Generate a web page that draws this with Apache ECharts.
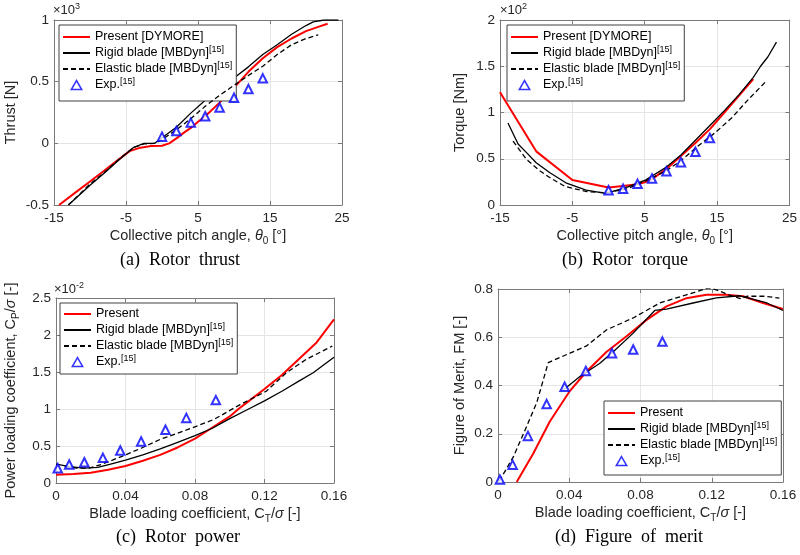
<!DOCTYPE html>
<html><head><meta charset="utf-8">
<script src="https://cdn.jsdelivr.net/npm/echarts@6/dist/echarts.min.js"></script>
<style>html,body{margin:0;padding:0;background:#fff}#c{width:800px;height:555px}</style>
</head><body><div id="c"></div>
<script>
// ---------- DATA ----------
// (a) Rotor thrust [x10^3 N] vs collective pitch angle [deg]
const thrustPresent = [[-14.3,-0.5],[-12,-0.398],[-10,-0.309],[-8,-0.22],[-6,-0.13],[-4.5,-0.063],[-3,-0.035],[-1.5,-0.022],[0,-0.02],[1,0.0],[2,0.04],[3,0.085],[4,0.125],[5,0.175],[6,0.22],[8,0.33],[10,0.45],[12,0.58],[14,0.69],[16,0.78],[18,0.85],[20,0.91],[22,0.95],[23,0.97]];
const thrustRigid = [[-13,-0.5],[-10,-0.34],[-8,-0.24],[-6,-0.135],[-4,-0.035],[-2.5,0.0],[-1,0.0],[0,0.045],[2,0.13],[4,0.245],[6,0.35],[8,0.45],[10,0.53],[12,0.62],[14,0.72],[16,0.8],[18,0.885],[20,0.955],[21,0.985],[22.5,1.0],[24.5,1.0]];
const thrustElastic = [[-13,-0.5],[-10,-0.33],[-8,-0.235],[-6,-0.13],[-4,-0.035],[-2.5,-0.005],[-1,0.0],[0,0.03],[2,0.11],[4,0.2],[6,0.3],[8,0.39],[10,0.47],[12,0.55],[14,0.625],[16,0.72],[18,0.8],[20,0.85],[21.7,0.88]];
const thrustExp = [[0,0.054],[2,0.1],[4,0.168],[6,0.22],[8,0.29],[10,0.37],[12,0.44],[14,0.527]];

// (b) Rotor torque [x10^2 Nm] vs collective pitch angle [deg]
const torquePresent = [[-15,1.22],[-10,0.58],[-5,0.27],[0,0.19],[2,0.205],[4,0.225],[5,0.245],[6,0.28],[8,0.39],[10,0.53],[12,0.67],[14,0.82],[16,1.0],[18,1.18],[20,1.36]];
const torqueRigid = [[-13.9,0.887],[-12.5,0.66],[-11.3,0.564],[-10,0.456],[-8.1,0.348],[-5.9,0.24],[-3.1,0.16],[-0.4,0.126],[2.4,0.187],[5.1,0.27],[8,0.41],[10,0.54],[12,0.7],[14,0.86],[16,1.02],[18,1.19],[20,1.38],[21,1.5],[22,1.6],[23.2,1.76]];
const torqueElastic = [[-13.2,0.69],[-11.3,0.49],[-9.5,0.37],[-8,0.29],[-6,0.2],[-3,0.145],[-0.4,0.133],[2.4,0.17],[5.1,0.26],[8,0.37],[10,0.48],[12.4,0.64],[14.7,0.78],[17,0.94],[19.3,1.14],[21.8,1.34]];
const torqueExp = [[0,0.16],[2,0.175],[4,0.23],[6,0.287],[8,0.366],[10,0.463],[12,0.575],[14,0.725]];

// (c) Rotor power: Cp/sigma [x10^-2] vs CT/sigma
const powerPresent = [[0,0.11],[0.01,0.12],[0.02,0.14],[0.03,0.18],[0.04,0.23],[0.05,0.3],[0.06,0.38],[0.07,0.48],[0.08,0.6],[0.09,0.75],[0.1,0.9],[0.105,1.0],[0.11,1.09],[0.12,1.27],[0.13,1.46],[0.14,1.68],[0.15,1.9],[0.16,2.21]];
const powerRigid = [[0,0.255],[0.008,0.22],[0.016,0.2],[0.024,0.21],[0.032,0.26],[0.04,0.31],[0.05,0.38],[0.06,0.46],[0.07,0.55],[0.08,0.64],[0.09,0.74],[0.1,0.87],[0.11,0.99],[0.12,1.11],[0.13,1.24],[0.14,1.38],[0.148,1.49],[0.16,1.7]];
const powerElastic = [[0.005,0.22],[0.012,0.2],[0.019,0.2],[0.026,0.25],[0.038,0.36],[0.049,0.47],[0.06,0.59],[0.0756,0.72],[0.091,0.86],[0.106,1.06],[0.121,1.24],[0.1326,1.49],[0.144,1.67],[0.159,1.85]];
const powerExp = [[0.001,0.2],[0.0076,0.25],[0.0163,0.28],[0.027,0.34],[0.037,0.44],[0.049,0.56],[0.063,0.72],[0.075,0.88],[0.092,1.12]];

// (d) Figure of merit vs CT/sigma
const fmPresent = [[0.0105,0],[0.0198,0.118],[0.029,0.25],[0.0404,0.378],[0.0497,0.458],[0.061,0.54],[0.072,0.603],[0.0834,0.672],[0.0946,0.728],[0.1058,0.762],[0.117,0.776],[0.128,0.776],[0.1376,0.77],[0.1488,0.742],[0.16,0.717]];
const fmRigid = [[0.0366,0.381],[0.046,0.437],[0.0572,0.492],[0.0647,0.54],[0.0759,0.617],[0.088,0.711],[0.0946,0.717],[0.1095,0.742],[0.1226,0.763],[0.1357,0.772],[0.143,0.758],[0.151,0.742],[0.16,0.711]];
const fmElastic = [[0.0007,0.004],[0.0086,0.104],[0.016,0.229],[0.0218,0.33],[0.0282,0.495],[0.0404,0.534],[0.0497,0.564],[0.061,0.631],[0.0759,0.68],[0.0908,0.742],[0.1058,0.776],[0.112,0.79],[0.118,0.805],[0.123,0.795],[0.13,0.775],[0.136,0.76],[0.14,0.77],[0.15,0.77],[0.158,0.762]];
const fmExp = [[0.0011,0.01],[0.0082,0.072],[0.0168,0.191],[0.0273,0.323],[0.0374,0.395],[0.0493,0.46],[0.064,0.534],[0.0759,0.549],[0.0923,0.582]];

// names and labels
const seriesNamesAB = ['Present [DYMORE]','Rigid blade [MBDyn]','Elastic blade [MBDyn]','Exp.'];
const seriesNamesCD = ['Present','Rigid blade [MBDyn]','Elastic blade [MBDyn]','Exp.'];
const xTitlePitch = 'Collective pitch angle, {it|θ}{sub|0} [°]';
const xTitleCT = 'Blade loading coefficient, C{sub|T}/{it|σ} [-]';
const yTitles = ['Thrust [N]','Torque [Nm]','Power loading coefficient, C{sub|P}/{it|σ} [-]','Figure of Merit, FM [-]'];
const scaleLabels = ['×10{sup|3}','×10{sup|2}','×10{sup|-2}',null];
const captions = ['(a)  Rotor  thrust','(b)  Rotor  torque','(c)  Rotor  power','(d)  Figure  of  merit'];

// ---------- LAYOUT / STYLE ----------
const FONT = 'Liberation Sans';
const TXT = '#262626';
const AX = '#7a7a7a';
const richT = {
  it:{fontStyle:'italic',fontSize:14.5,fontFamily:FONT,color:TXT,lineHeight:20},
  sub:{fontSize:10,fontFamily:FONT,color:TXT,lineHeight:10,verticalAlign:'bottom'},
  sup:{fontSize:9,fontFamily:FONT,color:TXT,lineHeight:9,verticalAlign:'top'}
};
const panels = [
  {grid:{left:53,top:20,width:289,height:185}, x:[-15,25,10], y:[-0.5,1,0.5], xName:xTitlePitch, xGap:21, yGap:33,
   legend:{left:59,top:25,padding:[4,4,8,3]}, names:seriesNamesAB, data:[thrustPresent,thrustRigid,thrustElastic,thrustExp], scalePos:[53,18]},
  {grid:{left:500,top:20,width:292,height:185}, x:[-15,25,10], y:[0,2,0.5], xName:xTitlePitch, xGap:21, yGap:30,
   legend:{left:507,top:25,padding:[4,4,8,3]}, names:seriesNamesAB, data:[torquePresent,torqueRigid,torqueElastic,torqueExp], scalePos:[500,18]},
  {grid:{left:54,top:298,width:280,height:185}, x:[0,0.16,0.04], y:[0,2.5,0.5], xName:xTitleCT, xGap:19, yGap:35,
   legend:{left:60,top:303,padding:[3,4,4,3]}, names:seriesNamesCD, data:[powerPresent,powerRigid,powerElastic,powerExp], scalePos:[54,297]},
  {grid:{left:498,top:289,width:285,height:193}, x:[0,0.16,0.04], y:[0,0.8,0.2], xName:xTitleCT, xGap:19, yGap:28,
   legend:{left:604,top:401,padding:[4,4,6,3]}, names:seriesNamesCD, data:[fmPresent,fmRigid,fmElastic,fmExp], scalePos:null}
];
const captionPos = [[180,260],[625,260],[178,537],[629,537]];

const lineStyles = [
  {color:'#ff0000',width:2,type:'solid'},
  {color:'#000000',width:1.3,type:'solid'},
  {color:'#000000',width:1.3,type:[5,3]}
];

const grids=[], xAxes=[], yAxes=[], series=[], legends=[], graphics=[];
const nameStyle = {fontSize:14.5,fontFamily:FONT,color:TXT,lineHeight:20,rich:richT};
const axBase = (i,p,r,pos,main)=>({
  gridIndex:i, type:'value', min:r[0], max:r[1], interval:r[2], position:pos,
  axisLine:{show:true,onZero:false,lineStyle:{color:AX,width:1}},
  axisTick:{show:true,inside:true,length:4,lineStyle:{color:AX}},
  axisLabel:{show:main,color:TXT,fontSize:13.5,fontFamily:FONT,margin:main&&pos==='left'?5:6},
  splitLine:{show:main,lineStyle:{color:'#e4e4e4',width:1}}
});
const hiddenMarker = {color:'rgba(0,0,0,0)',borderColor:'rgba(0,0,0,0)',borderWidth:0,opacity:0};
const triIcon = 'path://M5,0L10,8.66L0,8.66Z';
panels.forEach((p,i)=>{
  grids.push(Object.assign({containLabel:false,show:false},p.grid));
  const xm = axBase(i,p,p.x,'bottom',true);
  Object.assign(xm,{name:p.xName,nameLocation:'middle',nameGap:p.xGap,nameTextStyle:nameStyle});
  const ym = axBase(i,p,p.y,'left',true);
  Object.assign(ym,{name:yTitles[i],nameLocation:'middle',nameGap:p.yGap,nameTextStyle:nameStyle});
  xAxes[i]=xm; yAxes[i]=ym;
  xAxes[4+i]=axBase(i,p,p.x,'top',false);
  yAxes[4+i]=axBase(i,p,p.y,'right',false);
  p.data.forEach((d,k)=>{
    if(k<3){
      series.push({type:'line',name:p.names[k],xAxisIndex:i,yAxisIndex:i,data:d,symbol:'none',showSymbol:false,
        lineStyle:lineStyles[k],itemStyle:{color:lineStyles[k].color},z:2+k,silent:true});
    } else {
      series.push({type:'scatter',name:p.names[k],xAxisIndex:i,yAxisIndex:i,data:d,symbol:'emptyTriangle',symbolSize:8.5,
        itemStyle:{color:'#0000ff',borderColor:'#0000ff',borderWidth:1.5},z:6,silent:true});
    }
  });
  legends.push(Object.assign({
    orient:'vertical',
    data:p.names.map(n=>n==='Exp.'
      ? {name:n,icon:triIcon,itemStyle:{color:'#ffffff',borderColor:'#0000ff',borderWidth:1.5}}
      : {name:n,itemStyle:hiddenMarker}),
    selectedMode:false, symbolKeepAspect:true,
    itemWidth:27,itemHeight:9,itemGap:0,
    backgroundColor:'#ffffff',borderColor:'#404040',borderWidth:1,borderRadius:0,
    textStyle:{fontSize:12.5,fontFamily:FONT,color:'#000',lineHeight:16,rich:{sup:{fontSize:9,fontFamily:FONT,color:'#000',lineHeight:9,verticalAlign:'top'}}},
    formatter:n=>(n.indexOf('Present')===0?n:n+'{sup|[15]}')
  },p.legend));
  if(scaleLabels[i]){
    graphics.push({type:'text',x:p.scalePos[0],y:p.scalePos[1],z:10,
      style:{text:scaleLabels[i],fontSize:13,fontFamily:FONT,fill:TXT,verticalAlign:'bottom',align:'left',lineHeight:16,
        rich:{sup:{fontSize:9,fontFamily:FONT,fill:TXT,lineHeight:9,verticalAlign:'top'}}}});
  }
  graphics.push({type:'text',x:captionPos[i][0],y:captionPos[i][1],
    style:{text:captions[i],fontSize:18,fontFamily:'Liberation Serif',fill:'#000',align:'center',verticalAlign:'middle'}});
});

const chart = echarts.init(document.getElementById('c'),null,{renderer:'canvas'});
chart.setOption({
  animation:false, backgroundColor:'#ffffff',
  textStyle:{fontFamily:FONT},
  grid:grids, xAxis:xAxes, yAxis:yAxes, series:series, legend:legends, graphic:graphics
});
</script></body></html>
